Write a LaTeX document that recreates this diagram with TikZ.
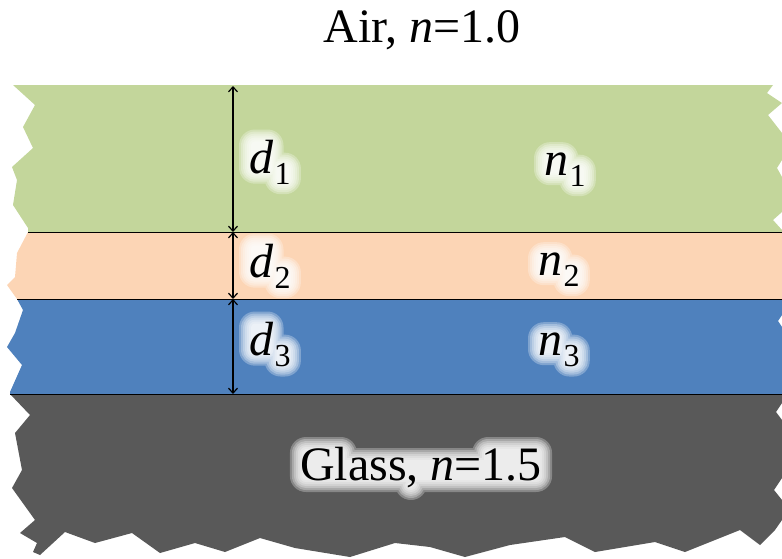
\documentclass[tikz,border=0pt]{standalone}
\usepackage{fontspec}
\setmainfont{Liberation Serif}
\usetikzlibrary{arrows.meta,calc}
\definecolor{layergreen}{HTML}{C3D69B}
\definecolor{layerpeach}{HTML}{FCD5B5}
\definecolor{layerblue}{HTML}{4F81BD}
\definecolor{layergray}{HTML}{595959}
\pgfdeclarelayer{glowlayer}
\pgfdeclarelayer{textlayer}
\pgfsetlayers{main,glowlayer,textlayer}
\tikzset{
  lbl/.style={font=\fontsize{48}{52}\selectfont, inner sep=0pt, text=black},
  sublbl/.style={font=\fontsize{32}{34}\selectfont, inner sep=0pt, text=black, anchor=base west},
  glowfill/.style={fill=white, opacity=0.28, nonzero rule},
  boundary/.style={black, line width=1pt},
  dimarrow/.style={black, line width=1.4pt, {Straight Barb[length=5pt,width=9pt,line width=1.2pt]}-{Straight Barb[length=5pt,width=9pt,line width=1.2pt]}},
}
% #1: list of lowerleft/upperright corner pairs; each ring is one union path
\newcommand\glowset[1]{%
  \begin{pgfonlayer}{glowlayer}
  \foreach \gg in {-2,0,2,4,6,8,10}{
    \pgfmathsetmacro\rc{\gg+6}
    \path[glowfill, rounded corners=\rc pt] foreach \pp/\qq in {#1} {
      ($(\pp)+(-\gg,\gg)$) rectangle ($(\qq)+(\gg,-\gg)$) };
  }
  \end{pgfonlayer}}
% #1 name, #2 position of base west, #3 letter, #4 subscript
\newcommand\sublabel[4]{%
  \begin{pgfonlayer}{textlayer}
  \node[lbl,anchor=base west] (#1) at #2 {\textit{#3}};
  \node[sublbl] (#1-s) at ($(#1.base east)+(1,11)$) {#4};
  \end{pgfonlayer}
  \glowset{#1.south west/#1.north east, #1-s.south west/#1-s.north east}}
\begin{document}
\begin{tikzpicture}[x=1pt,y=-1pt]
\useasboundingbox (0,0) rectangle (782,558);
% green layer
\fill[layergreen] (13,85) -- (773,85) -- (767,93) -- (782,103) -- (768,115) -- (782,133)
  -- (782,160) -- (777,168) -- (782,177) -- (782,212) -- (773,220) -- (782,230) -- (782,232)
  -- (28,232) -- (28,228) -- (13,205) -- (17,180) -- (12,167) -- (33,148) -- (23,127) -- (35,105) -- cycle;
% peach layer
\fill[layerpeach] (28,232) -- (782,232) -- (782,299) -- (17,299) -- (7,285) -- (15,277) -- (17,253) -- cycle;
% blue layer
\fill[layerblue] (17,299) -- (782,299) -- (782,315) -- (778,321) -- (782,327) -- (782,394)
  -- (10,394) -- (10,392) -- (22,365) -- (7,347) -- (15,333) -- (23,310) -- cycle;
% glass layer
\fill[layergray] (10,394) -- (782,394) -- (782,403) -- (776,412) -- (782,420) -- (782,478)
  -- (774,490) -- (782,500) -- (782,520) -- (775,530) -- (760,545) -- (740,530) -- (685,552)
  -- (655,542) -- (595,552) -- (565,537) -- (510,545) -- (465,557) -- (430,547) -- (395,543)
  -- (350,557) -- (295,548) -- (260,538) -- (225,552) -- (195,543) -- (160,553) -- (132,533)
  -- (95,543) -- (65,532) -- (40,555) -- (33,552) -- (37,543) -- (20,533) -- (35,520)
  -- (12,488) -- (22,470) -- (15,433) -- (30,415) -- cycle;
% boundaries
\coordinate (b1l) at (28,232);  \coordinate (b1r) at (782,232);
\coordinate (b2l) at (17,299);  \coordinate (b2r) at (782,299);
\coordinate (b3l) at (10,394);  \coordinate (b3r) at (782,394);
\draw[boundary] (b1l) -- (b1r);
\draw[boundary] (b2l) -- (b2r);
\draw[boundary] (b3l) -- (b3r);
% thickness arrows
\coordinate (t0) at (233,86);
\coordinate (t1) at (233,232);
\coordinate (t2) at (233,299);
\coordinate (t3) at (233,394);
\draw[dimarrow] (t0) -- (t1);
\draw[dimarrow] (t1) -- (t2);
\draw[dimarrow] (t2) -- (t3);
% labels
\node[lbl,anchor=base] (air) at (422,42) {Air, \textit{n}=1.0};
\sublabel{d1}{(249,173)}{d}{1}
\sublabel{d2}{(249,277)}{d}{2}
\sublabel{d3}{(249,355)}{d}{3}
\sublabel{n1}{(544,175)}{n}{1}
\sublabel{n2}{(538,275)}{n}{2}
\sublabel{n3}{(538,355)}{n}{3}
\begin{pgfonlayer}{textlayer}
\node[lbl,anchor=base] (glass) at (421,480) {Glass, \textit{n}=1.5};
\end{pgfonlayer}
\coordinate (gb1) at ($(glass.base west)+(0,2)$);
\coordinate (gb2) at ($(glass.base east)+(0,-22)$);
\coordinate (gl1) at ($(glass.base west)+(0,2)$);
\coordinate (gl2) at ($(glass.base west)+(47,-33)$);
\coordinate (gd1) at ($(glass.base east)+(-60,2)$);
\coordinate (gd2) at ($(glass.base east)+(0,-33)$);
\coordinate (gc1) at ($(glass.base west)+(105,10)$);
\coordinate (gc2) at ($(glass.base west)+(117,0)$);
\glowset{gb1/gb2, gl1/gl2, gd1/gd2, gc1/gc2}
\end{tikzpicture}
\end{document}
